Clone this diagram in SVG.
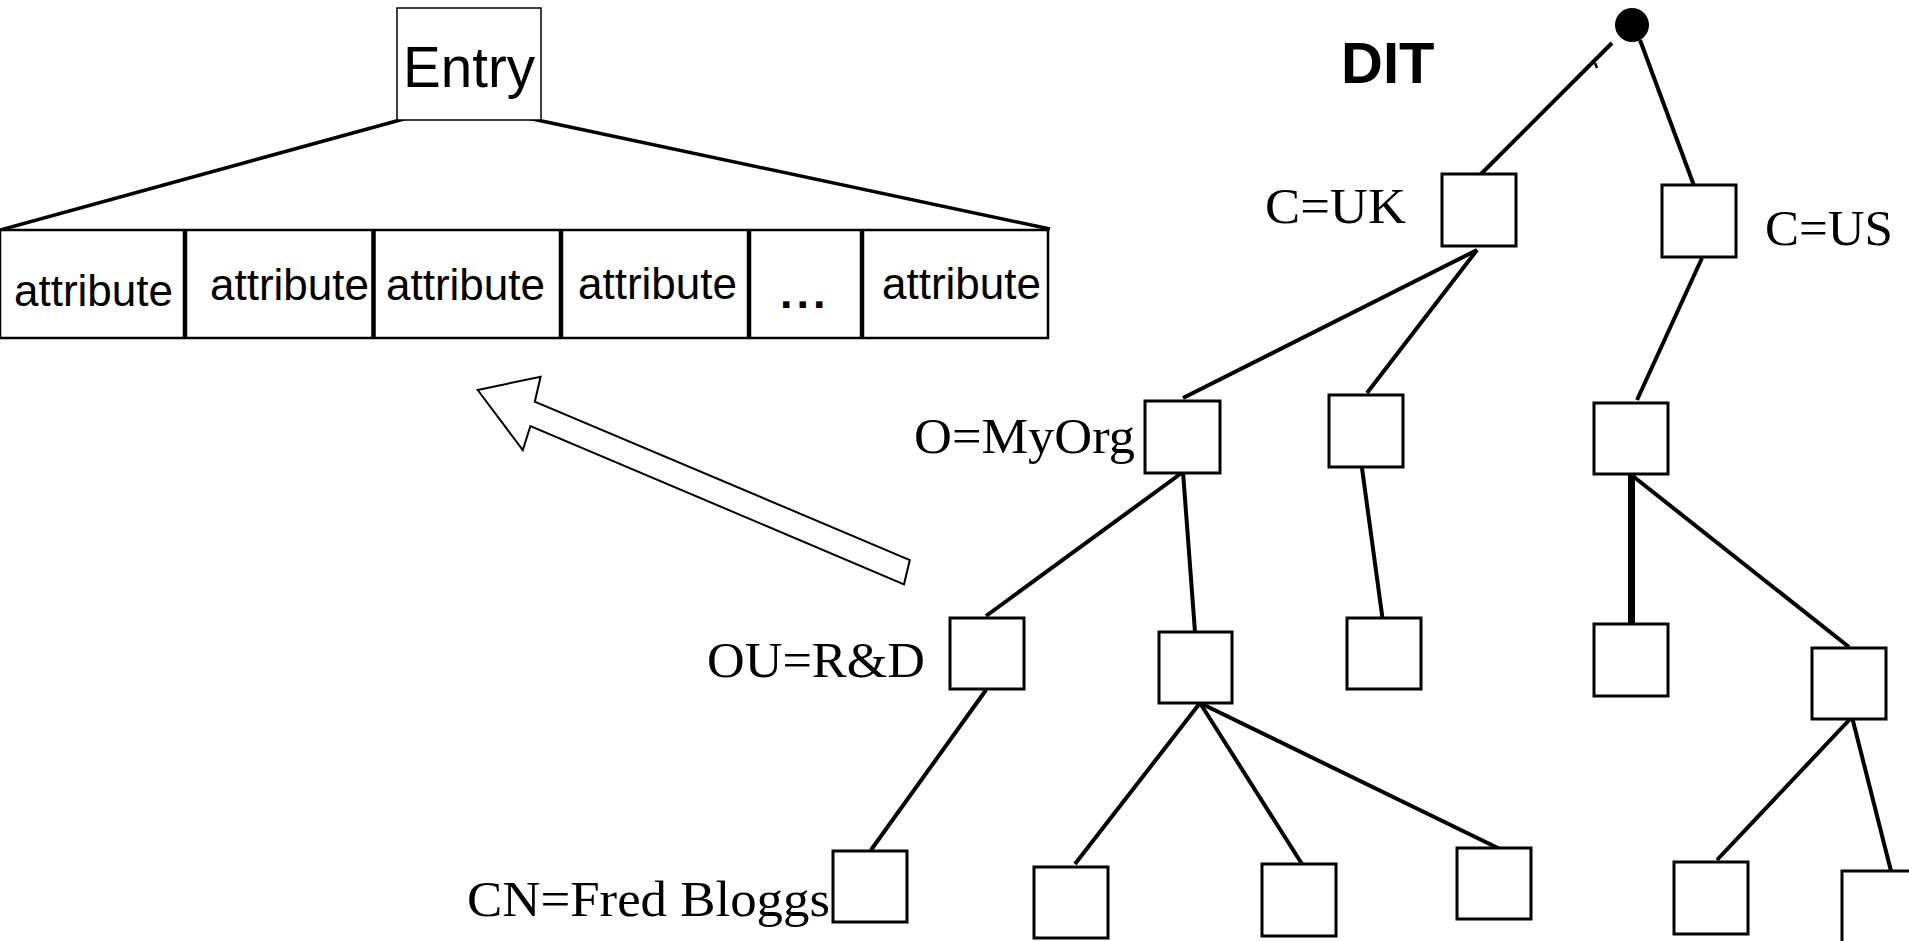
<svg xmlns="http://www.w3.org/2000/svg" width="1909" height="941" viewBox="0 0 1909 941">
<style>
.box{fill:#fff;stroke:#000;stroke-width:3}
.ln{stroke:#000;stroke-width:4;stroke-linecap:butt;fill:none}
.sans{font-family:"Liberation Sans",Arial,sans-serif;fill:#000}
.serif{font-family:"Liberation Serif","Times New Roman",serif;font-size:51px;fill:#000}
.attr{font-size:45px}
</style>
<rect width="1909" height="941" fill="#fff"/>
<g id="connectors">
<line class="ln" x1="411" y1="117" x2="0" y2="230" style="stroke-width:3.5"/>
<line class="ln" x1="523" y1="117" x2="1050" y2="229" style="stroke-width:3.5"/>
<line class="ln" x1="1612" y1="43" x2="1478" y2="177"/>
<line class="ln" x1="1595" y1="63" x2="1597" y2="68" style="stroke-width:2.5"/>
<line class="ln" x1="1640" y1="40" x2="1696" y2="191"/>
<line class="ln" x1="1477" y1="250" x2="1183" y2="398"/>
<line class="ln" x1="1477" y1="250" x2="1367" y2="393"/>
<line class="ln" x1="1702" y1="258" x2="1637" y2="400"/>
<line class="ln" x1="1183" y1="472" x2="986" y2="616"/>
<line class="ln" x1="1183" y1="472" x2="1195" y2="632"/>
<line class="ln" x1="1362" y1="468" x2="1383" y2="622"/>
<line class="ln" x1="1631.5" y1="475" x2="1631.5" y2="624" style="stroke-width:7"/>
<line class="ln" x1="1634" y1="477" x2="1849" y2="647"/>
<line class="ln" x1="986" y1="690" x2="871" y2="850"/>
<line class="ln" x1="1200" y1="703" x2="1075" y2="864"/>
<line class="ln" x1="1200" y1="703" x2="1302" y2="864"/>
<line class="ln" x1="1200" y1="703" x2="1502" y2="850"/>
<line class="ln" x1="1852" y1="717" x2="1717" y2="860"/>
<line class="ln" x1="1852" y1="717" x2="1891" y2="871"/>
</g>
<g id="entry">
<rect x="397" y="8" width="144" height="112" fill="#fff" stroke="#000" stroke-width="1.5"/>
<text class="sans" x="403" y="87" font-size="58" textLength="132" lengthAdjust="spacingAndGlyphs">Entry</text>
</g>
<g id="attributes">
<rect x="0" y="230" width="1048" height="108" fill="#fff" stroke="#000" stroke-width="2.5"/>
<line class="ln" x1="185" y1="230" x2="185" y2="338" style="stroke-width:4.5"/>
<line class="ln" x1="373.5" y1="230" x2="373.5" y2="338" style="stroke-width:4.5"/>
<line class="ln" x1="561" y1="230" x2="561" y2="338" style="stroke-width:4.5"/>
<line class="ln" x1="749" y1="230" x2="749" y2="338" style="stroke-width:4.5"/>
<line class="ln" x1="862" y1="230" x2="862" y2="338" style="stroke-width:4.5"/>
<text class="sans attr" x="14" y="306" textLength="159" lengthAdjust="spacingAndGlyphs">attribute</text>
<text class="sans attr" x="210" y="300" textLength="159" lengthAdjust="spacingAndGlyphs">attribute</text>
<text class="sans attr" x="386" y="300" textLength="159" lengthAdjust="spacingAndGlyphs">attribute</text>
<text class="sans attr" x="578" y="299" textLength="159" lengthAdjust="spacingAndGlyphs">attribute</text>
<text class="sans attr" x="780" y="308" font-weight="bold" letter-spacing="4">...</text>
<text class="sans attr" x="882" y="299" textLength="159" lengthAdjust="spacingAndGlyphs">attribute</text>
</g>
<g id="arrow">
<polygon points="477.7,390 540.6,376.7 534.8,401.7 909.8,560 904,584.3 530.4,426 522.8,450" fill="#fff" stroke="#000" stroke-width="2"/>
</g>
<g id="dit-label">
<text class="sans" x="1341" y="83" font-size="58" font-weight="bold">DIT</text>
</g>
<g id="root">
<circle cx="1632" cy="25" r="17" fill="#000"/>
</g>
<g id="c-uk">
<rect class="box" x="1442" y="174" width="74" height="72"/>
<text class="serif" x="1265" y="223" textLength="141" lengthAdjust="spacingAndGlyphs">C=UK</text>
</g>
<g id="c-us">
<rect class="box" x="1662" y="185" width="74" height="72"/>
<text class="serif" x="1765" y="245" textLength="128" lengthAdjust="spacingAndGlyphs">C=US</text>
</g>
<g id="o-myorg">
<rect class="box" x="1145" y="401" width="75" height="72"/>
<text class="serif" x="914" y="453" textLength="221" lengthAdjust="spacingAndGlyphs">O=MyOrg</text>
</g>
<g id="uk-child2">
<rect class="box" x="1329" y="395" width="74" height="72"/>
</g>
<g id="us-child">
<rect class="box" x="1594" y="403" width="74" height="71"/>
</g>
<g id="ou-rd">
<rect class="box" x="950" y="618" width="74" height="71"/>
<text class="serif" x="707" y="677" textLength="218" lengthAdjust="spacingAndGlyphs">OU=R&amp;D</text>
</g>
<g id="org-child2">
<rect class="box" x="1159" y="632" width="73" height="71"/>
</g>
<g id="uk2-child">
<rect class="box" x="1347" y="618" width="74" height="71"/>
</g>
<g id="us-child-a">
<rect class="box" x="1594" y="624" width="74" height="72"/>
</g>
<g id="us-child-b">
<rect class="box" x="1812" y="648" width="74" height="71"/>
</g>
<g id="cn-fred">
<rect class="box" x="833" y="851" width="74" height="71"/>
<text class="serif" x="467" y="916" font-size="52" textLength="363" lengthAdjust="spacingAndGlyphs">CN=Fred Bloggs</text>
</g>
<g id="leaf1">
<rect class="box" x="1034" y="867" width="74" height="71"/>
</g>
<g id="leaf2">
<rect class="box" x="1262" y="864" width="74" height="72"/>
</g>
<g id="leaf3">
<rect class="box" x="1457" y="848" width="74" height="71"/>
</g>
<g id="leaf4">
<rect class="box" x="1674" y="862" width="74" height="72"/>
</g>
<g id="leaf5">
<rect class="box" x="1842" y="871" width="74" height="72"/>
</g>
</svg>
